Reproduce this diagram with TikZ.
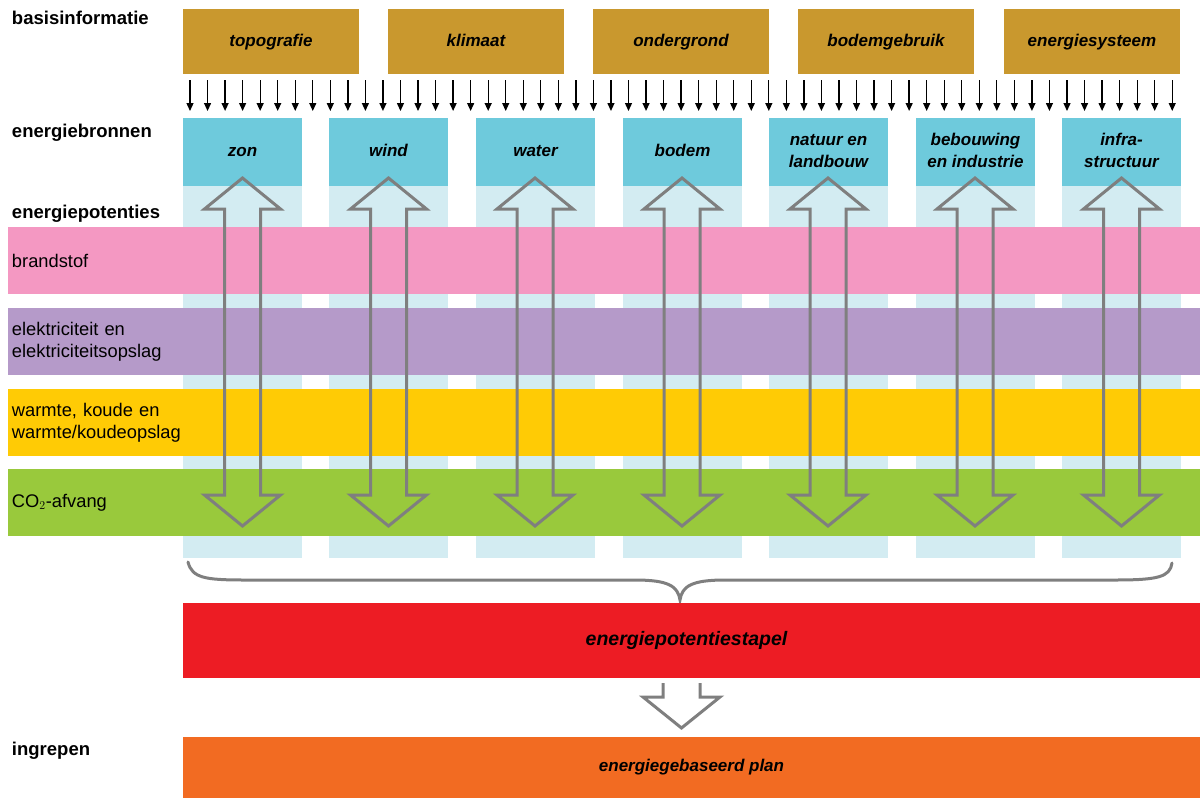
\documentclass[tikz,border=0pt]{standalone}
\usepackage{fontspec}
\setmainfont{Liberation Sans}
\usetikzlibrary{arrows.meta}

\definecolor{infogold}{HTML}{C9982E}
\definecolor{srccyan}{HTML}{6ECADC}
\definecolor{srclight}{HTML}{D3ECF2}
\definecolor{bandpink}{HTML}{F498C2}
\definecolor{bandpurple}{HTML}{B59AC9}
\definecolor{bandyellow}{HTML}{FFCB05}
\definecolor{bandgreen}{HTML}{99C93C}
\definecolor{stackred}{HTML}{ED1C24}
\definecolor{planorange}{HTML}{F26B22}
\definecolor{arrowgray}{HTML}{7F7F7F}

\begin{document}
\begin{tikzpicture}[x=1pt,y=-1pt,
  every node/.style={inner sep=0pt, outer sep=0pt},
  sidelabel/.style={anchor=base west, font=\fontsize{18.5}{22}\selectfont\bfseries},
  infobox/.style={anchor=north west, fill=infogold, minimum width=176pt, minimum height=65pt,
    text height=12.5pt, text depth=3.5pt,
    font=\fontsize{17}{20}\selectfont\bfseries\itshape},
  srcbox/.style={anchor=north west, fill=srccyan, minimum width=119pt, minimum height=68pt,
    align=center, font=\fontsize{17}{22}\selectfont\bfseries\itshape},
  srccol/.style={anchor=north west, fill=srclight, minimum width=119pt, minimum height=372pt},
  band/.style={anchor=north west, minimum height=67pt, text width=1184pt, inner xsep=4pt,
    align=left, font=\fontsize{18.3}{22}\selectfont},
  stackbox/.style={anchor=north west, minimum width=1017pt, font=\fontsize{19.5}{22}\selectfont\bfseries\itshape},
  feedarrow/.style={draw=black, line width=1.3pt, -{Triangle[length=8pt,width=7pt]}},
  hollow/.style={draw=arrowgray, line width=3pt, line join=miter},
  bracestyle/.style={draw=arrowgray, line width=3pt, line cap=round}
]
\useasboundingbox (0,0) rectangle (1200,798);

% side labels
\node[sidelabel] (lbasis)   at (12,24)  {basisinformatie};
\node[sidelabel] (lbronnen) at (12,137) {energiebronnen};
\node[sidelabel] (lpot)     at (12,218) {energiepotenties};
\node[sidelabel] (lingr)    at (12,755) {ingrepen};

% basic information
\node[infobox] (topo) at (183,9) {topografie};
\node[infobox] (klim) at (388,9) {klimaat};
\node[infobox] (onder) at (593,9) {ondergrond};
\node[infobox] (bodgeb) at (798,9) {bodemgebruik};
\node[infobox] (esys) at (1004,9) {energiesysteem};

% light columns under the energy sources
\foreach \x [count=\k] in {183,329,476,623,769,916,1062}
  \node[srccol] (col\k) at (\x,186) {};

% potential bands
\node[band, fill=bandpink]   (brand) at (8,227) {brandstof};
\node[band, fill=bandpurple] (elek)  at (8,308) {elektriciteit en\\elektriciteitsopslag};
\node[band, fill=bandyellow] (warm)  at (8,389) {warmte, koude en\\warmte/koudeopslag};
\node[band, fill=bandgreen]  (co)    at (8,469) {CO$_2$-afvang};

% energy sources
\node[srcbox] (zon)   at (183,118) {\strut zon};
\node[srcbox] (wind)  at (329,118) {\strut wind};
\node[srcbox] (water) at (476,118) {\strut water};
\node[srcbox] (bodem) at (623,118) {\strut bodem};
\node[srcbox] (natuur) at (769,118) {\strut natuur en\\landbouw\strut};
\node[srcbox] (bebouw) at (916,118) {\strut bebouwing\\en industrie\strut};
\node[srcbox] (infra) at (1062,118) {\strut infra-\\structuur\strut};

% row of feed arrows
\foreach \i in {0,...,56}
  \draw[feedarrow] ({190+\i*17.54},80) -- ({190+\i*17.54},111);

% hollow double arrows through the bands
\foreach \c in {242.5,388.5,535,682,828,975,1121.5}
  \draw[hollow] (\c,178) -- ({\c+38},209) -- ({\c+18},209) -- ({\c+18},495)
    -- ({\c+38},495) -- (\c,526) -- ({\c-38},495) -- ({\c-18},495)
    -- ({\c-18},209) -- ({\c-38},209) -- cycle;

% brace gathering the columns
\coordinate (bl) at (188,562);
\coordinate (br) at (1172,563);
\coordinate (btip) at (680,600);
\draw[bracestyle] (bl) .. controls (192,578) and (205,580) .. (245,580)
  -- (635,580) .. controls (668,580) and (678,586) .. (btip)
  .. controls (682,586) and (692,580) .. (725,580)
  -- (1115,580) .. controls (1158,580) and (1170,577) .. (br);

% stack and plan
\node[stackbox, fill=stackred, minimum height=75pt] (stapel) at (183,603) {\hspace*{-10pt}energiepotentiestapel};
\node[stackbox, fill=planorange, minimum height=61pt, font=\fontsize{17}{20}\selectfont\bfseries\itshape] (plan) at (183,737) {energiegebaseerd plan};

% open arrow from stack to plan
\draw[hollow] (663,683) -- (663,697) -- (643,697) -- (681.5,728) -- (720,697) -- (700,697) -- (700,683);
\end{tikzpicture}
\end{document}
